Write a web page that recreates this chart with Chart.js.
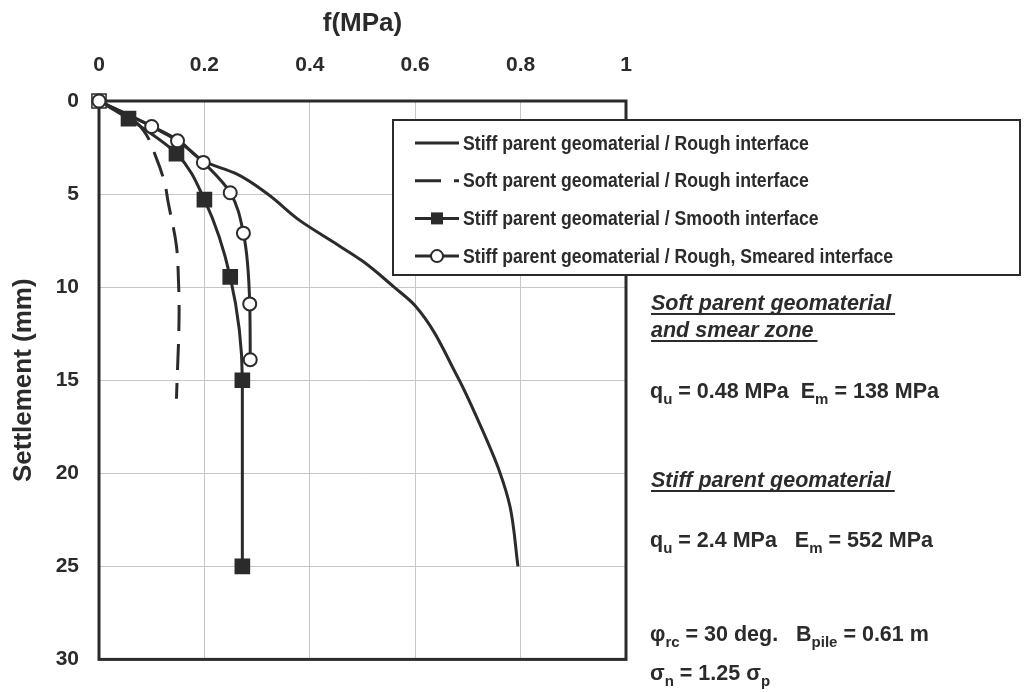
<!DOCTYPE html>
<html>
<head>
<meta charset="utf-8">
<script src="https://cdn.jsdelivr.net/npm/chart.js@4.4.0/dist/chart.umd.min.js"></script>
<style>
html, body { margin: 0; padding: 0; background: #fff; }
#wrap { width: 1024px; height: 692px; }
</style>
</head>
<body>
<div id="wrap"><canvas id="chart"></canvas></div>
<script>
// ------------------------------------------
// data: f (MPa) vs settlement (mm)
// ------------------------------------------
const fTickLabels = ["0", "0.2", "0.4", "0.6", "0.8", "1"];
const settlementTickLabels = ["0", "5", "10", "15", "20", "25", "30"];

const seriesNames = [
    "Stiff parent geomaterial / Rough interface",
    "Soft parent geomaterial / Rough interface",
    "Stiff parent geomaterial / Smooth interface",
    "Stiff parent geomaterial / Rough, Smeared interface"
];

const stiffRoughF = [0, 0.10, 0.15, 0.20, 0.26, 0.32, 0.38, 0.44, 0.50, 0.56, 0.60, 0.68, 0.72, 0.76, 0.78, 0.795];
const stiffRoughS = [0, 1.35, 2.1, 3.25, 3.9, 5.0, 6.4, 7.5, 8.6, 10.0, 11.0, 14.8, 17.2, 19.9, 21.8, 25.0];

const softRoughF = [0, 0.06, 0.085, 0.109, 0.125, 0.131, 0.147, 0.151, 0.152, 0.147];
const softRoughS = [0, 0.9, 1.6, 3.08, 4.45, 5.4, 7.8, 9.8, 11.2, 16.0];

const smoothF = [0, 0.056, 0.147, 0.200, 0.249, 0.272, 0.272];
const smoothS = [0, 0.95, 2.83, 5.3, 9.45, 15.0, 25.0];

const smearedF = [0, 0.100, 0.149, 0.198, 0.249, 0.274, 0.286, 0.287];
const smearedS = [0, 1.37, 2.14, 3.30, 4.93, 7.10, 10.9, 13.9];

// ------------------------------------------
// styles
// ------------------------------------------
const ink = "#2b2b2b";
const gridColor = "#c6c6c6";
const family = "'Liberation Sans', Arial, sans-serif";

Chart.defaults.font.family = family;
Chart.defaults.color = ink;

function pts(f, s) {
    return f.map((v, i) => ({ x: v, y: s[i] }));
}

// frame round the plot area
const framePlugin = {
    id: "frame",
    beforeDatasetsDraw(chart) {
        const { ctx, chartArea: a } = chart;
        ctx.save();
        ctx.strokeStyle = ink;
        ctx.lineWidth = 3;
        ctx.strokeRect(a.left, a.top, a.right - a.left, a.bottom - a.top);
        ctx.restore();
    }
};

// boxed legend that overlaps the plot
const legendPlugin = {
    id: "boxLegend",
    afterDraw(chart) {
        const ctx = chart.ctx;
        const box = { l: 393, t: 120, r: 1020, b: 275 };
        ctx.save();
        ctx.fillStyle = "#fff";
        ctx.fillRect(box.l, box.t, box.r - box.l, box.b - box.t);
        ctx.strokeStyle = ink;
        ctx.lineWidth = 2;
        ctx.strokeRect(box.l, box.t, box.r - box.l, box.b - box.t);

        chart.data.datasets.forEach((ds, i) => {
            const y = 143 + i * 37.7;
            const x0 = 415, x1 = 459;
            ctx.strokeStyle = ink;
            ctx.lineWidth = 3;
            ctx.setLineDash(ds.borderDash || []);
            ctx.beginPath();
            ctx.moveTo(x0, y);
            ctx.lineTo(x1, y);
            ctx.stroke();
            ctx.setLineDash([]);
            const cx = (x0 + x1) / 2;
            if (ds.pointStyle === "rect") {
                ctx.fillStyle = ink;
                ctx.fillRect(cx - 6, y - 6, 12, 12);
            } else if (ds.pointStyle === "circle") {
                ctx.fillStyle = "#fff";
                ctx.lineWidth = 2;
                ctx.beginPath();
                ctx.arc(cx, y, 6, 0, Math.PI * 2);
                ctx.fill();
                ctx.stroke();
            }
            // narrow-looking label: taller font squeezed sideways
            ctx.save();
            ctx.translate(463, y + 1);
            ctx.scale(0.86, 1);
            ctx.fillStyle = ink;
            ctx.font = "bold 20.5px " + family;
            ctx.textBaseline = "middle";
            ctx.textAlign = "left";
            ctx.fillText(ds.label, 0, 0);
            ctx.restore();
        });
        ctx.restore();
    }
};

// notes on the right
function richText(ctx, parts, x, y, size) {
    let cx = x;
    parts.forEach(p => {
        const sub = p[1];
        ctx.font = "bold " + (sub ? Math.round(size * 0.72) : size) + "px " + family;
        ctx.fillText(p[0], cx, sub ? y + size * 0.28 : y);
        cx += ctx.measureText(p[0]).width;
    });
}

const notesPlugin = {
    id: "notes",
    afterDraw(chart) {
        const ctx = chart.ctx;
        const x = 651;
        const size = 21.5;
        ctx.save();
        ctx.fillStyle = ink;
        ctx.strokeStyle = ink;
        ctx.textBaseline = "alphabetic";
        ctx.textAlign = "left";

        function heading(text, y, extra) {
            ctx.font = "italic bold " + size + "px " + family;
            ctx.fillText(text, x, y);
            const w = ctx.measureText(text).width;
            ctx.lineWidth = 1.8;
            ctx.beginPath();
            ctx.moveTo(x, y + 4);
            ctx.lineTo(x + w + extra, y + 4);
            ctx.stroke();
        }

        heading("Soft parent geomaterial", 310, 4);
        heading("and smear zone", 337, 4);
        richText(ctx, [["q"], ["u", 1], [" = 0.48 MPa  E"], ["m", 1], [" = 138 MPa"]], x - 1, 398, size);
        heading("Stiff parent geomaterial", 487, 4);
        richText(ctx, [["q"], ["u", 1], [" = 2.4 MPa   E"], ["m", 1], [" = 552 MPa"]], x - 1, 547, size);
        richText(ctx, [["\u03c6"], ["rc", 1], [" = 30 deg.   B"], ["pile", 1], [" = 0.61 m"]], x - 1, 641, size);
        richText(ctx, [["\u03c3"], ["n", 1], [" = 1.25 \u03c3"], ["p", 1]], x - 1, 680, size);
        ctx.restore();
    }
};

// ------------------------------------------
// chart
// ------------------------------------------
const ctx = document.getElementById("chart").getContext("2d");

new Chart(ctx, {

    type: "line",

    data: {
        datasets: [
            {
                label: seriesNames[0],
                data: pts(stiffRoughF, stiffRoughS),
                borderColor: ink,
                borderWidth: 3,
                pointRadius: 0,
                cubicInterpolationMode: "monotone",
                clip: false,
                order: 2
            },
            {
                label: seriesNames[1],
                data: pts(softRoughF, softRoughS),
                borderColor: ink,
                borderWidth: 3,
                borderDash: [26, 13],
                pointRadius: 0,
                cubicInterpolationMode: "monotone",
                clip: false,
                order: 3
            },
            {
                label: seriesNames[2],
                data: pts(smoothF, smoothS),
                borderColor: ink,
                borderWidth: 3,
                pointStyle: "rect",
                pointRadius: 10,
                pointBorderWidth: 1.5,
                pointBorderColor: ink,
                pointBackgroundColor: smoothF.map((v, i) => i === 0 ? "#fff" : ink),
                cubicInterpolationMode: "monotone",
                clip: false,
                order: 1
            },
            {
                label: seriesNames[3],
                data: pts(smearedF, smearedS),
                borderColor: ink,
                borderWidth: 3,
                pointStyle: "circle",
                pointRadius: 6.5,
                pointBorderWidth: 2,
                pointBorderColor: ink,
                pointBackgroundColor: "#fff",
                cubicInterpolationMode: "monotone",
                clip: false,
                order: 0
            }
        ]
    },

    options: {
        indexAxis: "y",
        responsive: true,
        maintainAspectRatio: false,
        animation: false,
        layout: { padding: { left: 0, right: 398, top: 0, bottom: 5 } },
        plugins: {
            legend: { display: false },
            tooltip: { enabled: false }
        },
        scales: {
            x: {
                type: "linear",
                position: "top",
                min: 0,
                max: 1,
                ticks: {
                    stepSize: 0.2,
                    padding: 23,
                    font: { size: 21, weight: "bold" },
                    callback: v => fTickLabels[Math.round(v / 0.2)]
                },
                grid: { color: gridColor, lineWidth: 1, drawTicks: false },
                border: { display: false },
                title: {
                    display: true,
                    text: "f(MPa)",
                    font: { size: 26, weight: "bold" },
                    padding: { top: 8, bottom: 0 }
                },
                afterFit(scale) { scale.height = 101; }
            },
            y: {
                type: "linear",
                position: "left",
                reverse: true,
                min: 0,
                max: 30,
                ticks: {
                    stepSize: 5,
                    padding: 20,
                    font: { size: 21, weight: "bold" },
                    callback: v => settlementTickLabels[Math.round(v / 5)]
                },
                grid: { color: gridColor, lineWidth: 1, drawTicks: false },
                border: { display: false },
                title: {
                    display: true,
                    text: "Settlement (mm)",
                    font: { size: 26, weight: "bold" },
                    padding: { top: 8, bottom: 0 }
                },
                afterFit(scale) { scale.width = 99; }
            }
        }
    },

    plugins: [framePlugin, legendPlugin, notesPlugin]

});
</script>
</body>
</html>
